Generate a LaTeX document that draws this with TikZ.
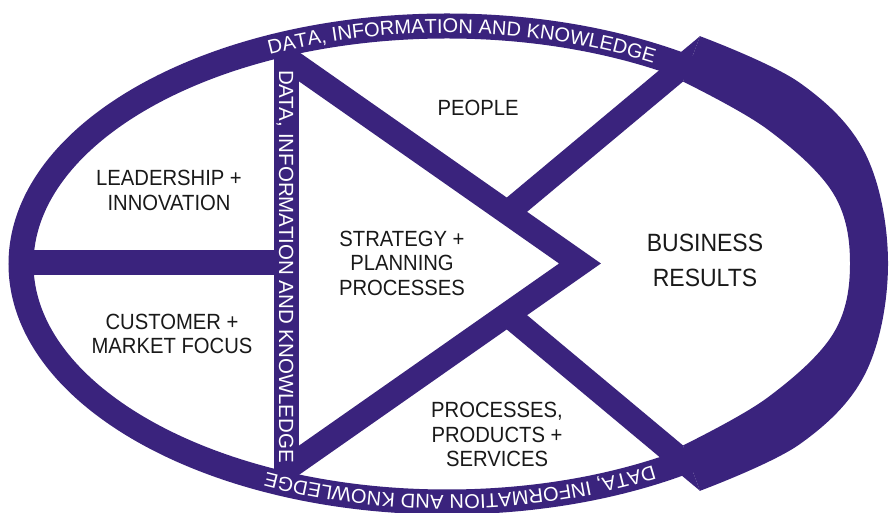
\documentclass[tikz,border=0pt]{standalone}
\usepackage{fontspec}
\setmainfont{Liberation Sans}
\newfontfamily\labfont[FakeStretch=0.92]{Liberation Sans}
\usetikzlibrary{decorations.text,calc}
\definecolor{bandpurple}{RGB}{58,35,125}
\newcommand\bandfnt{\fontsize{20}{24}\selectfont}
\begin{document}
\begin{tikzpicture}[x=1pt,y=1pt,
  band/.style={draw=bandpurple, line width=25pt},
  lab/.style={font=\labfont\fontsize{22}{24.5}\selectfont, text=black!90, align=center, inner sep=0pt},
  bandtext/.style={decorate, decoration={text along path, text={|\bandfnt\color{white}|DATA, INFORMATION AND KNOWLEDGE}, text align={fit to path}, raise=-7pt}}
]
\useasboundingbox (0,0) rectangle (890,513);
\fill[white] (0,0) rectangle (890,513);
\coordinate (E) at (447,249);
% outer ellipse band
\draw[band] (E) ellipse[x radius=426pt, y radius=238pt];
% vertical and horizontal bars
\draw[band] (286.5,23) -- (286.5,475);
\draw[band] (15,250) -- (286.5,250);
% triangle
\draw[draw=bandpurple, line width=24pt, line join=miter, miter limit=10] (286.5,455) -- (580,249.5) -- (286.5,44);
% chevron bars
\fill[bandpurple] (500,309.8) -- (700,476.8) -- (683,431.4) -- (515,291.1) -- cycle;
\fill[bandpurple] (500,189.2) -- (700,22.2) -- (683,67.6) -- (515,207.9) -- cycle;
% crescent
\fill[bandpurple] plot[smooth, tension=0.6] coordinates {(700,476.8) (800,430) (866,358) (888,249.5) (866,141) (800,69) (700,22.2)}
  -- plot[smooth, tension=0.6] coordinates {(683,67.6) (767,115) (833,179) (850,249.5) (833,320) (767,384) (683,431.4)} -- cycle;
% band texts
\path[bandtext] ($(E)+(114.85:426pt and 238pt)$) arc[start angle=114.85, end angle=60.77, x radius=426pt, y radius=238pt];
\path[bandtext] ($(E)+(-60.77:426pt and 238pt)$) arc[start angle=-60.77, end angle=-115.3, x radius=426pt, y radius=238pt];
\node[text=white, rotate=-90, anchor=base, font=\fontsize{20.5}{24}\selectfont, inner sep=0pt] (vtext) at (279.2,246.5) {DATA, INFORMATION AND KNOWLEDGE};
% labels
\node[lab] (people) at (478,405) {PEOPLE};
\node[lab] (lead) at (169,322.5) {LEADERSHIP +\\INNOVATION};
\node[lab] (cust) at (172,179) {CUSTOMER +\\MARKET FOCUS};
\node[lab] (strat) at (402,250) {STRATEGY +\\PLANNING\\PROCESSES};
\node[lab] (proc) at (497,78.5) {PROCESSES,\\PRODUCTS +\\SERVICES};
\node[lab, font=\labfont\fontsize{25}{35}\selectfont] (biz) at (705,253) {BUSINESS\\RESULTS};
\end{tikzpicture}
\end{document}
